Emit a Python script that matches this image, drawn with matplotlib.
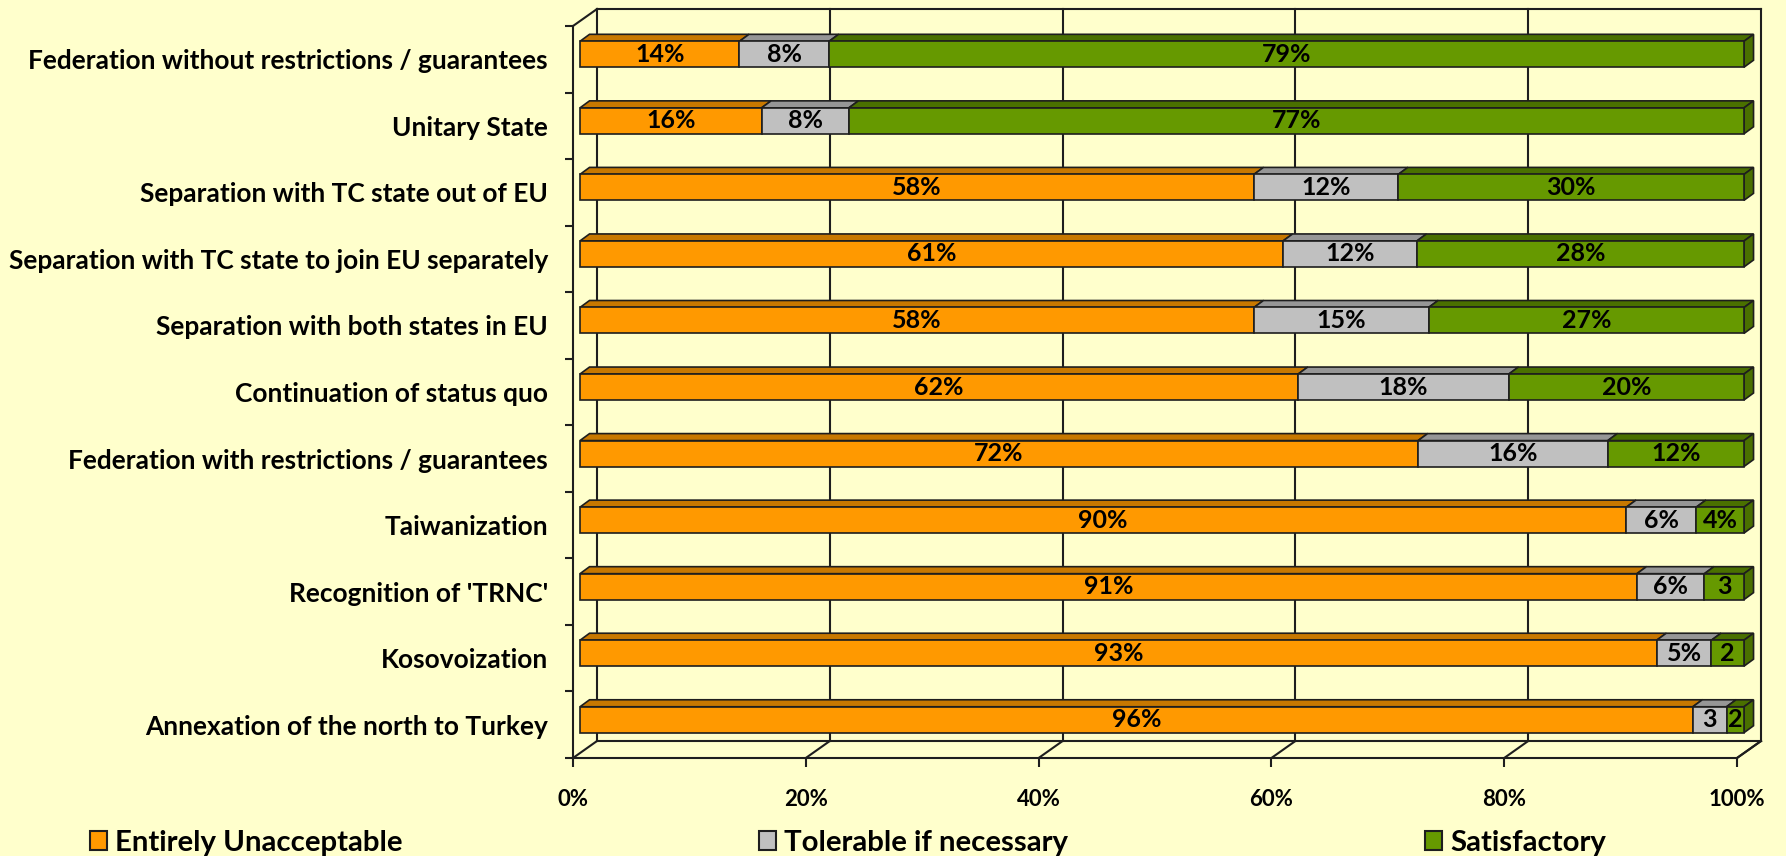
import matplotlib

matplotlib.use("Agg")
import matplotlib.pyplot as plt
from matplotlib.patches import Polygon, Patch

BG = "#FFFFCC"
EDGE = "#1e1e1e"
ORANGE = ("#FF9900", "#C87800")
GRAY = ("#C0C0C0", "#969696")
GREEN = ("#669900", "#4A7000")

categories = [
    "Federation without restrictions / guarantees",
    "Unitary State",
    "Separation with TC state out of EU",
    "Separation with TC state to join EU separately",
    "Separation with both states in EU",
    "Continuation of status quo",
    "Federation with restrictions / guarantees",
    "Taiwanization",
    "Recognition of 'TRNC'",
    "Kosovoization",
    "Annexation of the north to Turkey",
]
# shares as drawn (100% stacked)
unacceptable = [13.7, 15.6, 57.9, 60.4, 57.9, 61.7, 72.0, 89.9, 90.8, 92.5, 95.6]
tolerable = [7.7, 7.5, 12.4, 11.5, 15.0, 18.1, 16.3, 6.0, 5.8, 4.7, 2.9]
satisfactory = [78.6, 76.9, 29.7, 28.1, 27.1, 20.2, 11.7, 4.1, 3.4, 2.8, 1.5]
# data labels as printed on the bars
lab_unacc = ["14%", "16%", "58%", "61%", "58%", "62%", "72%", "90%", "91%", "93%", "96%"]
lab_tol = ["8%", "8%", "12%", "12%", "15%", "18%", "16%", "6%", "6%", "5%", "3"]
lab_sat = ["79%", "77%", "30%", "28%", "27%", "20%", "12%", "4%", "3", "2", "2"]
series = [
    ("Entirely Unacceptable", unacceptable, lab_unacc, ORANGE),
    ("Tolerable if necessary", tolerable, lab_tol, GRAY),
    ("Satisfactory", satisfactory, lab_sat, GREEN),
]
xticks = [0, 20, 40, 60, 80, 100]

plt.rcParams.update({"font.family": "Lato", "font.weight": "bold"})

W, H = 1786, 856
fig = plt.figure(figsize=(W / 100, H / 100), dpi=100, facecolor=BG)
ax = fig.add_axes([573 / W, (H - 758) / H, 1164 / W, (758 - 26) / H])
ax.set_facecolor("none")
ax.set_xlim(0, 100)
ax.set_ylim(len(categories) - 0.5, -0.5)

# oblique depth (wall offset) and bar offsets, in data units
DX, DY = 2.06, -0.255
FX, FY = 0.60, -0.075
BX, BY = 0.82, -0.105
BAR_H = 0.39
y_top, y_bot = -0.5, len(categories) - 0.5

lk = dict(color=EDGE, lw=1.5, clip_on=False, zorder=1)
# back wall + floor
for t in xticks:
    ax.plot([t + DX, t + DX], [y_top + DY, y_bot + DY], **lk)
    ax.plot([t, t + DX], [y_bot, y_bot + DY], **lk)
ax.plot([DX, 100 + DX], [y_top + DY, y_top + DY], **lk)
ax.plot([DX, 100 + DX], [y_bot + DY, y_bot + DY], **lk)
ax.plot([0, DX], [y_top, y_top + DY], **lk)

# 3D stacked bars
for i in range(len(categories)):
    left = 0.0
    for k, (name, vals, labs, (front, top)) in enumerate(series):
        v = vals[i]
        x0 = left + FX
        x1 = left + v + FX
        yc = i + FY
        ytop = yc - BAR_H / 2
        ybot = yc + BAR_H / 2
        ax.add_patch(Polygon([(x0, ytop), (x0 + BX, ytop + BY), (x1 + BX, ytop + BY), (x1, ytop)],
                             closed=True, fc=top, ec=EDGE, lw=1.2, clip_on=False, zorder=3))
        if k == len(series) - 1:
            ax.add_patch(Polygon([(x1, ytop), (x1 + BX, ytop + BY), (x1 + BX, ybot + BY), (x1, ybot)],
                                 closed=True, fc=top, ec=EDGE, lw=1.2, clip_on=False, zorder=3))
        ax.barh(yc, v, left=x0, height=BAR_H, color=front, edgecolor=EDGE, lw=1.2,
                clip_on=False, zorder=4)
        ax.text(x0 + v / 2, yc, labs[i], ha="center", va="center", fontsize=18,
                fontweight="bold", color="black", zorder=5)
        left += v

# axes
for s in ("top", "right"):
    ax.spines[s].set_visible(False)
for s in ("left", "bottom"):
    ax.spines[s].set_color(EDGE)
    ax.spines[s].set_linewidth(1.5)
ax.set_xticks(xticks, [f"{t}%" for t in xticks])
ax.set_yticks(range(len(categories)), categories)
ax.set_yticks([i - 0.5 for i in range(len(categories) + 1)], minor=True)
ax.tick_params(axis="x", length=6.5, width=1.5, color=EDGE, pad=16, labelsize=16)
ax.tick_params(axis="y", which="major", length=0, pad=18, labelsize=18.9)
ax.tick_params(axis="y", which="minor", length=6, width=1.5, color=EDGE)
ax.plot([100, 100 + DX], [y_bot, y_bot + DY], **lk)

handles = [Patch(fc=c[0], ec=EDGE, lw=1.5, label=n) for n, _, _, c in series]
fig.legend(handles=handles, ncol=3, loc="center left", bbox_to_anchor=(90 / W, (H - 843) / H),
           frameon=False, fontsize=21.2, borderpad=0, borderaxespad=0,
           handlelength=0.58, handleheight=0.58, handletextpad=0.28, columnspacing=12.1)

fig.savefig("out.png", dpi=100, facecolor=BG)
